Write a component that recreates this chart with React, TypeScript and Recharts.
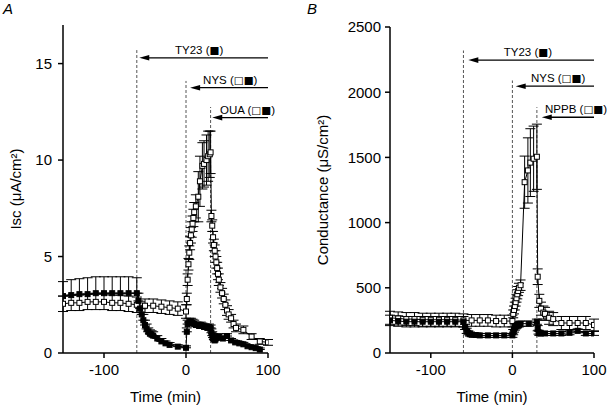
import { LineChart, Line, XAxis, YAxis, ErrorBar, ReferenceLine } from 'recharts';

const FONT = '"Liberation Sans", Arial, Helvetica, sans-serif';

// ---- panel A: Isc (uA/cm2) ----
const iscFilledT = [-150, -140, -130, -120, -110, -100, -90, -80, -70, -60, -58, -56, -54, -52, -50, -48, -46, -44, -42, -40, -35, -30, -25, -20, -10, 0, 1, 2, 4, 6, 8, 10, 12, 14, 16, 18, 20, 22, 24, 26, 28, 30, 31, 32, 33, 34, 35, 36, 38, 40, 45, 50, 55, 60, 65, 70, 75, 80, 85, 90];
const iscFilledV = [2.95, 3.0, 3.05, 3.05, 3.1, 3.1, 3.1, 3.1, 3.1, 3.1, 2.7, 2.3, 2.0, 1.7, 1.45, 1.25, 1.1, 1.0, 0.95, 0.9, 0.75, 0.6, 0.5, 0.42, 0.33, 0.27, 1.1, 1.5, 1.6, 1.6, 1.55, 1.5, 1.45, 1.45, 1.4, 1.45, 1.4, 1.35, 1.35, 1.3, 1.35, 1.3, 1.05, 0.9, 0.8, 0.7, 0.65, 0.7, 0.8, 0.85, 0.75, 0.88, 0.65, 0.55, 0.5, 0.45, 0.35, 0.3, 0.25, 0.18];
const iscFilledE = [0.75, 0.8, 0.8, 0.85, 0.85, 0.85, 0.85, 0.85, 0.85, 0.8, 0.4, 0.35, 0.3, 0.3, 0.25, 0.25, 0.2, 0.2, 0.2, 0.2, 0.15, 0.15, 0.12, 0.12, 0.1, 0.1, 0.2, 0.2, 0.2, 0.2, 0.2, 0.2, 0.15, 0.15, 0.15, 0.15, 0.15, 0.15, 0.15, 0.15, 0.15, 0.15, 0.2, 0.2, 0.2, 0.2, 0.15, 0.15, 0.15, 0.15, 0.12, 0.12, 0.1, 0.1, 0.1, 0.1, 0.08, 0.08, 0.08, 0.08];

const iscOpenT = [-150, -140, -130, -120, -110, -100, -90, -80, -70, -60, -50, -40, -30, -20, -10, 0, 1, 2, 3, 4, 5, 6, 7, 8, 9, 10, 12, 15, 17, 20, 22, 25, 27, 29, 30, 31, 32, 33, 34, 35, 36, 37, 38, 39, 40, 42, 44, 46, 48, 50, 52, 55, 58, 61, 70, 80, 90, 100];
const iscOpenV = [2.55, 2.6, 2.6, 2.65, 2.65, 2.65, 2.6, 2.6, 2.55, 2.5, 2.45, 2.45, 2.4, 2.35, 2.3, 2.15, 2.8, 3.8, 4.6, 5.2, 5.7, 6.1, 6.4, 6.7, 7.0, 7.3, 7.6, 8.1, 8.9, 9.7, 9.8, 10.0, 10.2, 10.3, 10.4, 7.1, 6.6, 6.0, 5.6, 5.3, 5.0, 4.7, 4.4, 4.1, 3.8, 3.4, 3.1, 2.8, 2.5, 2.2, 2.0, 1.8, 1.5, 1.3, 1.2, 0.85, 0.6, 0.55];
const iscOpenE = [0.4, 0.4, 0.4, 0.4, 0.4, 0.4, 0.4, 0.4, 0.4, 0.4, 0.35, 0.35, 0.35, 0.35, 0.35, 0.35, 0.3, 0.3, 0.3, 0.35, 0.35, 0.4, 0.4, 0.4, 0.45, 0.5, 0.6, 1.3, 1.3, 1.2, 1.2, 1.3, 1.3, 1.2, 1.1, 0.3, 0.3, 0.3, 0.3, 0.3, 0.3, 0.3, 0.3, 0.3, 0.3, 0.25, 0.25, 0.25, 0.25, 0.25, 0.25, 0.2, 0.2, 0.2, 0.2, 0.15, 0.15, 0.15];

// ---- panel B: conductance (uS/cm2) ----
const condOpenT = [-150, -140, -130, -120, -110, -100, -90, -80, -70, -60, -50, -40, -30, -20, -10, 0, 1, 2, 3, 4, 5, 6, 7, 8, 10, 15, 19, 22, 26, 30, 31, 33, 35, 38, 40, 45, 50, 60, 70, 80, 90, 100];
const condOpenV = [270, 265, 260, 260, 255, 255, 255, 255, 255, 250, 250, 250, 250, 245, 245, 245, 300, 330, 360, 390, 420, 450, 475, 500, 520, 1310, 1400, 1460, 1490, 1505, 585, 400, 340, 310, 300, 270, 260, 230, 230, 230, 230, 215];
const condOpenE = [50, 50, 50, 50, 50, 50, 50, 50, 50, 50, 45, 45, 45, 45, 45, 45, 30, 30, 30, 30, 30, 35, 35, 35, 40, 200, 250, 260, 250, 250, 60, 50, 50, 50, 50, 50, 50, 50, 50, 50, 50, 45];

const condFilledT = [-150, -140, -130, -120, -110, -100, -90, -80, -70, -60, -58, -56, -54, -52, -50, -45, -40, -30, -20, -10, 0, 1, 2, 3, 4, 5, 6, 8, 10, 20, 30, 31, 32, 33, 35, 40, 50, 60, 70, 80, 90, 100];
const condFilledV = [250, 245, 240, 240, 240, 240, 240, 240, 240, 240, 200, 170, 155, 145, 140, 138, 135, 135, 135, 135, 135, 160, 180, 195, 205, 210, 215, 220, 225, 225, 240, 190, 160, 150, 150, 150, 150, 150, 155, 170, 150, 150];
const condFilledE = [40, 40, 40, 40, 40, 40, 40, 40, 40, 40, 20, 20, 15, 15, 15, 15, 15, 15, 15, 15, 15, 20, 20, 20, 20, 20, 20, 20, 20, 20, 20, 20, 15, 15, 15, 15, 15, 15, 15, 15, 15, 15];

const xTicks = [-100, 0, 100];
const iscTicks = [0, 5, 10, 15];
const condTicks = [0, 500, 1000, 1500, 2000, 2500];

// drug additions: name, symbols, start time, dashed line top, arrow level, arrow tip, label centre
const iscDrugs = [
  { name: 'TY23', marks: '■', start: -60, top: 15.7, level: 15.3, tip: -57, labelAt: 16 },
  { name: 'NYS', marks: '□■', start: 0, top: 14.1, level: 13.75, tip: 5, labelAt: 54 },
  { name: 'OUA', marks: '□■', start: 30, top: 12.75, level: 12.2, tip: 32, labelAt: 75 },
];
const condDrugs = [
  { name: 'TY23', marks: '■', start: -60, top: 2320, level: 2246, tip: -54, labelAt: 19 },
  { name: 'NYS', marks: '□■', start: 0, top: 2090, level: 2046, tip: 4, labelAt: 56 },
  { name: 'NPPB', marks: '□■', start: 30, top: 1885, level: 1808, tip: 36, labelAt: 78 },
];

const rows = (t: number[], v: number[], e: number[], upOnly = false) =>
  t.map((x, i) => ({ t: x, v: v[i], e: upOnly ? [0, e[i]] : e[i] }));

const square = (filled: boolean) => (p: any) => {
  if (p.cx == null || p.cy == null) return <g key={`n-${p.index}`} />;
  return (
    <rect key={`sq-${p.index}`} x={p.cx - 2.5} y={p.cy - 2.5} width={5} height={5}
      fill={filled ? '#000' : '#fff'} stroke="#000" strokeWidth={1} />
  );
};

// arrow pointing from x1 (right end) to x2 (tip), label above
const arrow = (name: string, marks: string, frac: number) => (p: any) => {
  const { x1, y1, x2, y2 } = p;
  const hl = 10;
  const hw = 2.8;
  const lx = x2 + (x1 - x2) * frac;
  return (
    <g>
      <line x1={x1} y1={y1} x2={x2 + hl - 1} y2={y2} stroke="#000" strokeWidth={1.3} />
      <polygon points={`${x2},${y2} ${x2 + hl},${y2 - hw} ${x2 + hl},${y2 + hw}`} fill="#000" />
      <text x={lx} y={y1 - 4} textAnchor="middle" fontSize={11.5} fontFamily={FONT} fill="#000">
        {name} (<tspan fontFamily="DejaVu Sans" fontSize={10.5}>{marks}</tspan>)
      </text>
    </g>
  );
};

type Drug = { name: string; marks: string; start: number; top: number; level: number; tip: number; labelAt: number };

function Panel(props: {
  left: number; margin: any; yWidth: number; yMax: number; yTicks: number[];
  yLabel: string; yLabelOffset: number; tickMargin: number;
  open: any[]; filled: any[]; drugs: Drug[];
}) {
  const axisStyle = { stroke: '#000', strokeWidth: 1.5 };
  const tickStyle = { fill: '#000', fontSize: 15, fontFamily: FONT };
  return (
    <div style={{ position: 'absolute', left: props.left, top: 0 }}>
      <LineChart width={305} height={410} margin={props.margin}>
        <XAxis dataKey="t" type="number" domain={[-150, 100]} ticks={xTicks} allowDataOverflow
          axisLine={axisStyle} tickLine={axisStyle} tick={tickStyle} tickSize={5} tickMargin={6} height={50}
          label={{ value: 'Time (min)', position: 'insideBottom', offset: 1, fill: '#000', fontSize: 15, fontFamily: FONT }} />
        <YAxis type="number" domain={[0, props.yMax]} ticks={props.yTicks} allowDataOverflow width={props.yWidth}
          axisLine={axisStyle} tickLine={axisStyle} tick={tickStyle} tickSize={5} tickMargin={props.tickMargin}
          label={{ value: props.yLabel, angle: -90, position: 'insideLeft', offset: props.yLabelOffset, fill: '#000', fontSize: 15, fontFamily: FONT, style: { textAnchor: 'middle' } }} />
        {props.drugs.map((d) => (
          <ReferenceLine key={`dl-${d.name}`} segment={[{ x: d.start, y: 0 }, { x: d.start, y: d.top }]}
            stroke="#555" strokeWidth={1} strokeDasharray="3 2" />
        ))}
        {props.drugs.map((d) => (
          <ReferenceLine key={`ar-${d.name}`} segment={[{ x: 100, y: d.level }, { x: d.tip, y: d.level }]}
            shape={arrow(d.name, d.marks, (d.labelAt - d.tip) / (100 - d.tip))} />
        ))}
        <Line data={props.open} dataKey="v" stroke="#000" strokeWidth={1} dot={square(false)} activeDot={false} isAnimationActive={false}>
          <ErrorBar dataKey="e" width={5} stroke="#000" strokeWidth={1} direction="y" />
        </Line>
        <Line data={props.filled} dataKey="v" stroke="#000" strokeWidth={1} dot={square(true)} activeDot={false} isAnimationActive={false}>
          <ErrorBar dataKey="e" width={5} stroke="#000" strokeWidth={1} direction="y" />
        </Line>
      </LineChart>
    </div>
  );
}

export default function App() {
  const letter = { position: 'absolute' as const, top: 0, fontSize: 15, lineHeight: '18px', fontStyle: 'italic', fontFamily: FONT, color: '#000' };
  return (
    <div style={{ position: 'absolute', left: 0, top: 0, width: 610, height: 410, background: '#fff', overflow: 'hidden' }}>
      <Panel left={0} margin={{ top: 25, right: 37, bottom: 7, left: 8 }} yWidth={55} yMax={17} yTicks={iscTicks}
        yLabel="Isc (μA/cm²)" yLabelOffset={8} tickMargin={6}
        open={rows(iscOpenT, iscOpenV, iscOpenE)} filled={rows(iscFilledT, iscFilledV, iscFilledE, true)} drugs={iscDrugs} />
      <Panel left={305} margin={{ top: 27, right: 16, bottom: 7, left: 13 }} yWidth={72} yMax={2500} yTicks={condTicks}
        yLabel="Conductance (μS/cm²)" yLabelOffset={5} tickMargin={4}
        open={rows(condOpenT, condOpenV, condOpenE)} filled={rows(condFilledT, condFilledV, condFilledE)} drugs={condDrugs} />
      <div style={{ ...letter, left: 3 }}>A</div>
      <div style={{ ...letter, left: 307 }}>B</div>
    </div>
  );
}
